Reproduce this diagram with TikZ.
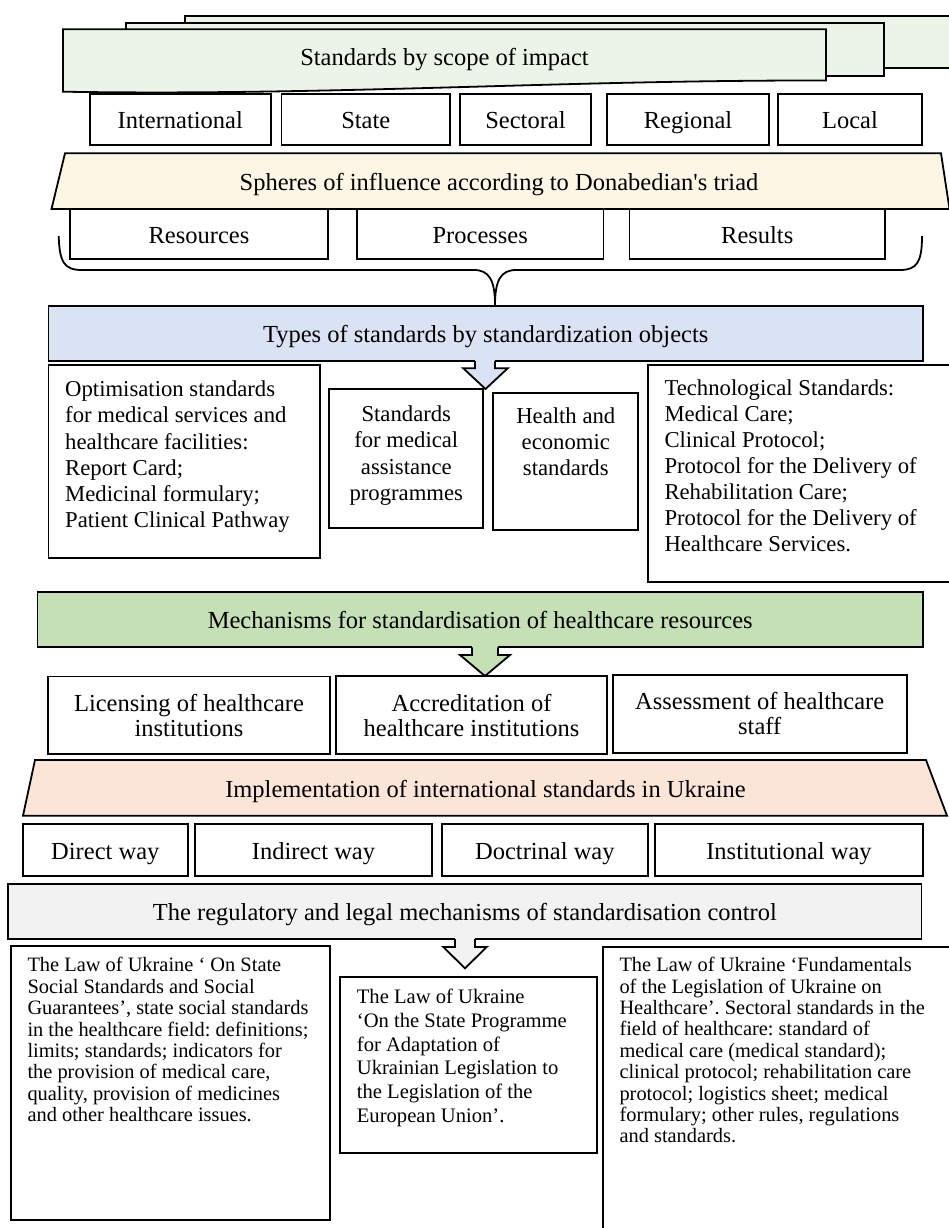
\documentclass[tikz,border=0pt]{standalone}
\usepackage{fontspec}
\setmainfont{Liberation Serif}
\frenchspacing
\definecolor{sheetfill}{RGB}{236,244,231}
\definecolor{spherefill}{RGB}{253,246,228}
\definecolor{typesfill}{RGB}{218,227,243}
\definecolor{mechfill}{RGB}{197,224,180}
\definecolor{implfill}{RGB}{251,229,214}
\definecolor{regfill}{RGB}{242,242,242}
\begin{document}
\begin{tikzpicture}[x=1pt,y=-1pt,
  outl/.style={draw=black,line width=1.8pt,line join=miter},
  frame/.style={outl,fill=white,inner sep=0pt,outer sep=0pt},
  wh/.style 2 args={minimum width=#1pt,minimum height=#2pt},
  onelbl/.style={font=\fontsize{24.5}{25}\selectfont,text height=22pt,text depth=4pt},
  freelbl/.style={inner sep=0pt,font=\fontsize{24.5}{25}\selectfont,text height=22pt,text depth=4pt},
  lbltwo/.style={inner sep=0pt,anchor=north,align=center,font=\fontsize{24.5}{25}\selectfont},
  typl/.style={inner sep=0pt,anchor=north west,align=left,font=\fontsize{22.7}{26.1}\selectfont},
  typc/.style={inner sep=0pt,anchor=north,align=center,font=\fontsize{22.7}{26.1}\selectfont},
  lawa/.style={inner sep=0pt,anchor=north west,align=left,font=\fontsize{20.4}{21.4}\selectfont},
  lawb/.style={inner sep=0pt,anchor=north west,align=left,font=\fontsize{20.6}{23.7}\selectfont},
]
\useasboundingbox (0,0) rectangle (949,1228);
\fill[white] (0,0) rectangle (949,1228);

% --- multidocument: standards by scope of impact
\draw[outl,fill=sheetfill] (184.6,15.7) rectangle (950,68.3);
\draw[outl,fill=sheetfill] (126,22.7) rectangle (884,76);
\draw[outl,fill=sheetfill] (63,29.3) -- (826,29.3) -- (826,80.5)
   .. controls (560,80) and (330,96) .. (63,91.7) -- cycle;
\node[freelbl] (scope) at (444.5,56.5) {Standards by scope of impact};

\node[frame,onelbl,wh={181.4}{50.7}] (intl) at (180.3,119.65) {International};
\node[frame,onelbl,wh={168.5}{50.7}] (state) at (365.75,119.65) {State};
\node[frame,onelbl,wh={131}{50.7}] (sect) at (525.5,119.65) {Sectoral};
\node[frame,onelbl,wh={162}{50.7}] (regn) at (688,119.65) {Regional};
\node[frame,onelbl,wh={144}{50.7}] (locl) at (850,119.65) {Local};

% --- Donabedian
\draw[outl,fill=spherefill] (65,153.3) -- (941,153.3) -- (949.5,209) -- (51.5,209) -- cycle;
\node[freelbl] (spheres) at (499,181) {Spheres of influence according to Donabedian\textquotesingle s triad};
\node[frame,onelbl,wh={258}{50.3}] (res) at (199,234.15) {Resources};
\node[frame,onelbl,wh={246.5}{50.3}] (proc) at (480.25,234.15) {Processes};
\node[frame,onelbl,wh={255.5}{50.3}] (rslt) at (757.25,234.15) {Results};
\draw[line width=1.8pt] (58.7,236) .. controls (59.5,262) and (64,270) .. (82,270) -- (474,270)
  .. controls (489,270) and (495,280) .. (495,305)
  .. controls (495,280) and (501,270) .. (516,270) -- (900,270)
  .. controls (917,270) and (922,262) .. (922,236);

% --- types of standards
\node[frame,onelbl,fill=typesfill,wh={874.6}{55}] (types) at (485.7,333.5) {Types of standards by standardization objects};
\node[frame,wh={271.6}{193}] (opt) at (184.2,461.5) {};
\node[frame,wh={154}{139}] (std) at (406.3,458.8) {};
\node[frame,wh={145}{136.7}] (hec) at (565.8,461.65) {};
\node[frame,wh={302.3}{216.7}] (tech) at (798.85,473.35) {};
\fill[typesfill] (475,358) rectangle (495,369);
\draw[outl,fill=typesfill] (475,361) -- (475,368.3) -- (463.3,368.3) -- (485.5,389) -- (507.7,368.3) -- (495,368.3) -- (495,361);
\node[typl] (optt) at (65,378.4) {\strut Optimisation standards\\for medical services and\\healthcare facilities:\\Report Card;\\Medicinal formulary;\\Patient Clinical Pathway};
\node[typc] (stdt) at (406.3,403.4) {\strut Standards\\for medical\\assistance\\programmes};
\node[typc] (hect) at (565.8,405) {\strut Health and\\economic\\standards};
\node[typl] (techt) at (664.3,376.7) {\strut Technological Standards:\\Medical Care;\\Clinical Protocol;\\Protocol for the Delivery of\\Rehabilitation Care;\\Protocol for the Delivery of\\Healthcare Services.};

% --- mechanisms
\node[frame,onelbl,fill=mechfill,wh={885.5}{55.6}] (mech) at (480.25,619.5) {Mechanisms for standardisation of healthcare resources};
\node[frame,wh={282}{77.8}] (lic) at (189,715.4) {};
\node[frame,wh={271}{78}] (acc) at (471.5,715) {};
\node[frame,wh={294.2}{77.7}] (ass) at (759.7,713.85) {};
\fill[mechfill] (472,644) rectangle (498,656);
\draw[outl,fill=mechfill] (472,647.3) -- (472,655) -- (460,655) -- (485,676) -- (510,655) -- (498,655) -- (498,647.3);
\node[lbltwo] (lict) at (189,693.5) {\strut Licensing of healthcare\\institutions};
\node[lbltwo] (acct) at (471.5,693.5) {\strut Accreditation of\\healthcare institutions};
\node[lbltwo] (asst) at (759.7,692) {\strut Assessment of healthcare\\staff};

% --- implementation
\draw[outl,fill=implfill] (35,760) -- (926,760) -- (947,815.7) -- (23,815.7) -- cycle;
\node[freelbl] (impl) at (485.5,788.5) {Implementation of international standards in Ukraine};
\node[frame,onelbl,wh={164.6}{51.7}] (dir) at (105.3,850.15) {Direct way};
\node[frame,onelbl,wh={237}{51.7}] (ind) at (313.5,850.15) {Indirect way};
\node[frame,onelbl,wh={205.7}{51.7}] (doc) at (544.85,850.15) {Doctrinal way};
\node[frame,onelbl,wh={268}{51.7}] (ins) at (789,850.15) {Institutional way};

% --- regulatory
\node[frame,onelbl,fill=regfill,wh={913.2}{54.7}] (reg) at (464.9,911.65) {The regulatory and legal mechanisms of standardisation control};
\node[frame,wh={319}{274}] (lawl) at (170.5,1083) {};
\node[frame,wh={257.3}{176.6}] (lawm) at (468.65,1065) {};
\node[frame,wh={346.7}{288.3}] (lawr) at (776.65,1090.85) {};
\fill[regfill] (455,936) rectangle (475,947.5);
\draw[outl,fill=regfill] (455,939) -- (455,947) -- (443.3,947) -- (465,968.3) -- (486.7,947) -- (475,947) -- (475,939);
\node[lawa] (lawlt) at (27.3,956.8) {\strut The Law of Ukraine ‘ On State\\Social Standards and Social\\Guarantees’, state social standards\\in the healthcare field: definitions;\\limits; standards; indicators for\\the provision of medical care,\\quality, provision of medicines\\and other healthcare issues.};
\node[lawb] (lawmt) at (356.7,987) {\strut The Law of Ukraine\\‘On the State Programme\\for Adaptation of\\Ukrainian Legislation to\\the Legislation of the\\European Union’.};
\node[lawa] (lawrt) at (619.3,956.5) {\strut The Law of Ukraine ‘Fundamentals\\of the Legislation of Ukraine on\\Healthcare’. Sectoral standards in the\\field of healthcare: standard of\\medical care (medical standard);\\clinical protocol; rehabilitation care\\protocol; logistics sheet; medical\\formulary; other rules, regulations\\and standards.};
\end{tikzpicture}
\end{document}
